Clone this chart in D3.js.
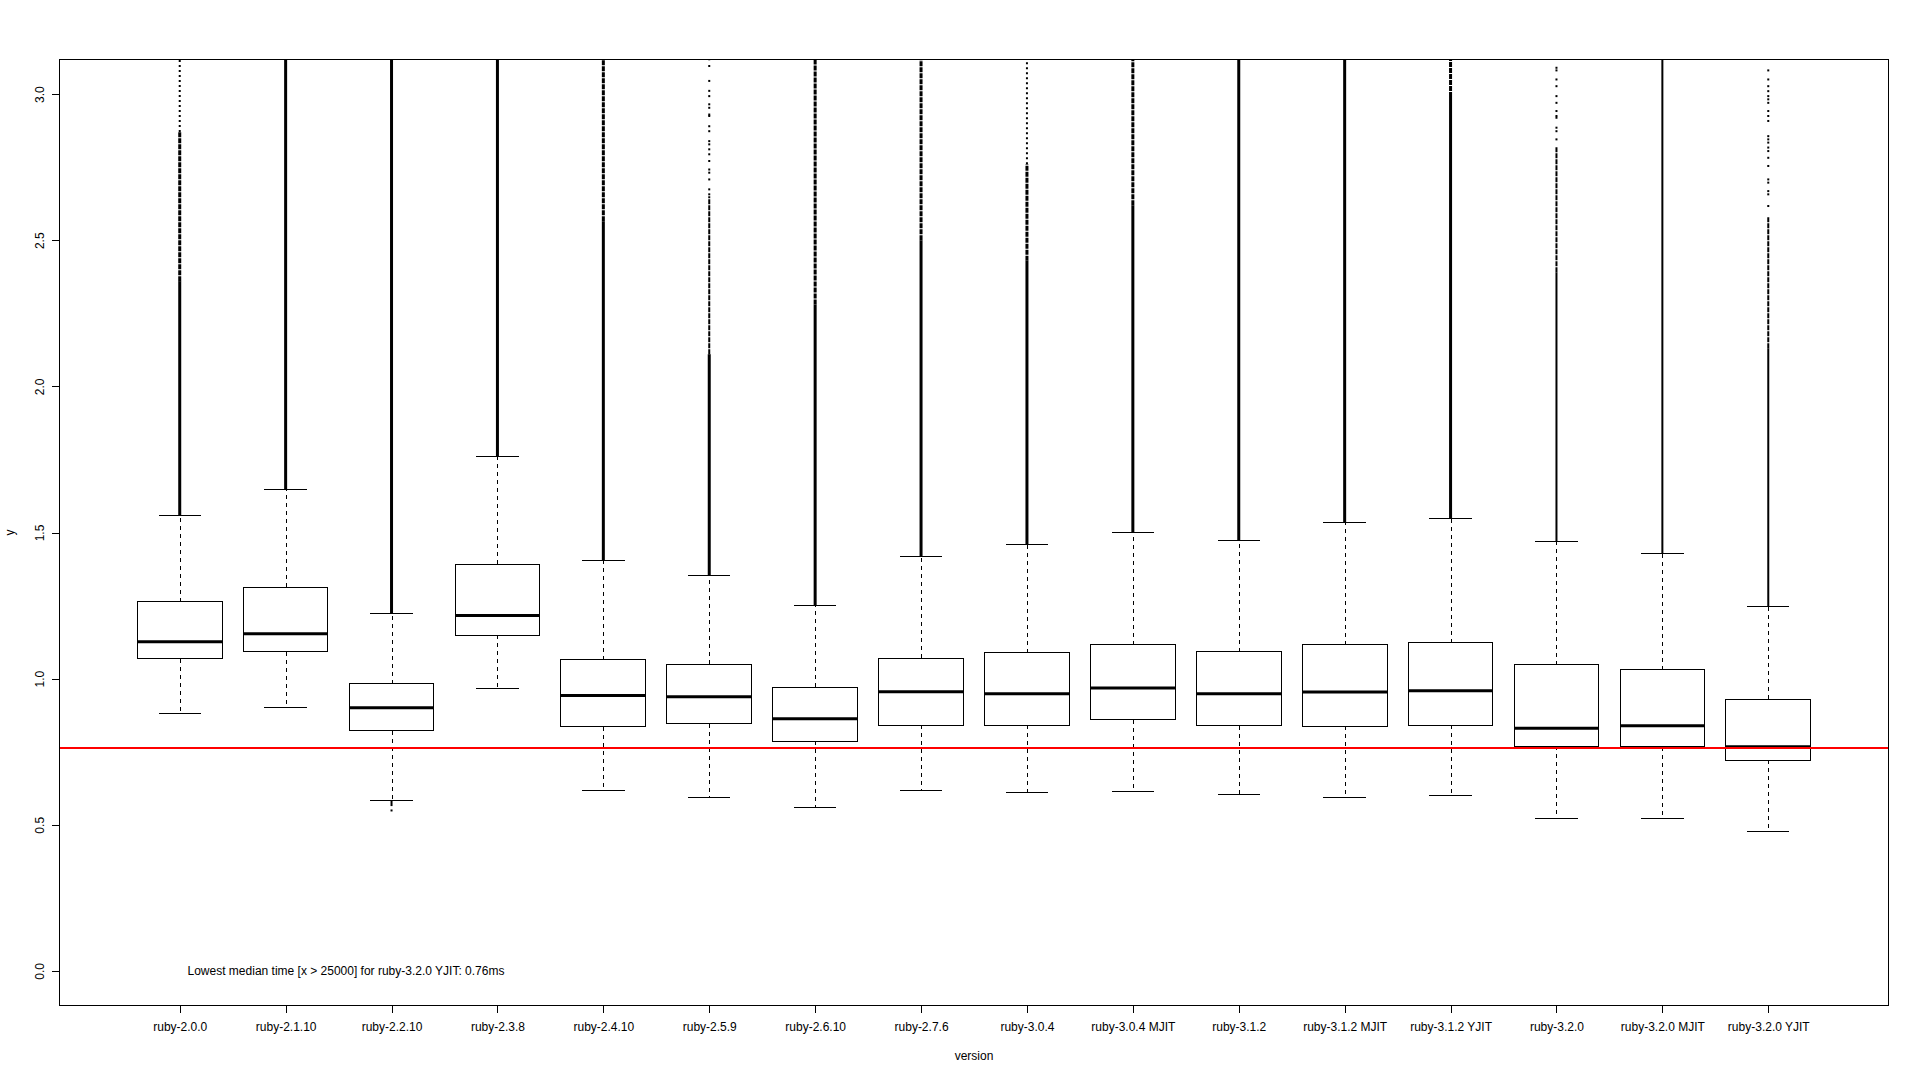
<!DOCTYPE html>
<html><head><meta charset="utf-8">
<script src="https://cdn.jsdelivr.net/npm/d3@7"></script>
<style>
body{margin:0;background:#fff}
svg{display:block;background:#fff}
text{font-family:"Liberation Sans",Arial,Helvetica,sans-serif;font-size:12px;fill:#000}
</style>
</head><body>
<svg id="chart" width="1920" height="1080"></svg>
<script>
// ---- data ----
const categories = ["ruby-2.0.0","ruby-2.1.10","ruby-2.2.10","ruby-2.3.8","ruby-2.4.10","ruby-2.5.9","ruby-2.6.10","ruby-2.7.6","ruby-3.0.4","ruby-3.0.4 MJIT","ruby-3.1.2","ruby-3.1.2 MJIT","ruby-3.1.2 YJIT","ruby-3.2.0","ruby-3.2.0 MJIT","ruby-3.2.0 YJIT"];
const lowerWhisker = [0.880,0.901,0.582,0.965,0.616,0.595,0.559,0.618,0.609,0.615,0.602,0.595,0.599,0.520,0.521,0.478];
const q1           = [1.068,1.092,0.821,1.148,0.835,0.845,0.785,0.841,0.841,0.859,0.838,0.837,0.841,0.768,0.767,0.720];
const medians      = [1.126,1.154,0.900,1.216,0.942,0.938,0.863,0.955,0.948,0.968,0.948,0.954,0.959,0.830,0.839,0.767];
const q3           = [1.263,1.313,0.982,1.392,1.064,1.049,0.971,1.070,1.088,1.116,1.092,1.116,1.123,1.047,1.030,0.930];
const upperWhisker = [1.557,1.646,1.222,1.761,1.405,1.353,1.249,1.417,1.458,1.501,1.472,1.533,1.547,1.468,1.427,1.247];
// outliers above the upper whisker: a continuous run, a dense grainy run, a loose run, then single points
const outlierSolidTop = [2.36,3.12,3.12,3.12,2.565,2.11,2.28,2.50,2.43,2.62,3.12,3.12,2.99,2.39,3.12,2.13];
const outlierDenseTop = [2.87,null,null,null,3.12,2.65,3.12,3.12,2.76,3.12,null,null,3.12,2.82,null,2.58];
const outlierLooseTop = [3.12,null,null,null,null,null,null,null,3.12,null,null,null,null,null,null,null];
const outlierDots = [
  [],[],[],[],[],
  [3.119,3.096,3.045,3.011,2.993,2.965,2.953,2.930,2.925,2.890,2.873,2.839,2.828,2.811,2.794,2.771,2.742,2.731,2.708,2.674,2.657],
  [],[],[],[],[],[],[],
  [3.090,3.081,3.050,3.027,2.993,2.970,2.942,2.925,2.919,2.885,2.873,2.845],
  [],
  [3.081,3.050,3.027,3.010,2.993,2.982,2.970,2.942,2.925,2.908,2.856,2.845,2.834,2.817,2.805,2.782,2.754,2.708,2.697,2.668,2.657,2.617]
];
// outliers below the lower whisker
const lowOutlierSolidBottom = [null,null,0.564,null,null,null,null,null,null,null,null,null,null,null,null,null];
const lowOutlierDots = [[],[],[0.549],[],[],[],[],[],[],[],[],[],[],[],[],[]];
const yTicks = [0,0.5,1.0,1.5,2.0,2.5,3.0];
const bestMedian = 0.763;
const annotation = "Lowest median time [x > 25000] for ruby-3.2.0 YJIT: 0.76ms";
const xTitle = "version", yTitle = "y";

// ---- layout ----
const L = 59, R = 1889, T = 59, B = 1006;
const n = categories.length;
const pad = 0.04 * n;
const x = d3.scaleLinear().domain([0.5 - pad, n + 0.5 + pad]).range([L, R]);
const y = d3.scaleLinear().domain([0 - 0.04*3, 3 + 0.04*3]).range([B, T]);
const svg = d3.select("#chart");

svg.append("defs").append("clipPath").attr("id","plotclip")
  .append("rect").attr("x",L).attr("y",T).attr("width",R-L).attr("height",B-T);

const rows = categories.map((c,i)=>({c,i,pos:i+1,lw:lowerWhisker[i],q1:q1[i],med:medians[i],q3:q3[i],uw:upperWhisker[i],
  sTop:outlierSolidTop[i],dTop:outlierDenseTop[i],lTop:outlierLooseTop[i],dots:outlierDots[i],
  lowS:lowOutlierSolidBottom[i],lowDots:lowOutlierDots[i]}));

const gOut = svg.append("g").attr("clip-path","url(#plotclip)");
const thick = i => (i >= 13 ? 2 : 3);
rows.forEach(d=>{
  const cx = x(d.pos);
  gOut.append("line").attr("x1",cx).attr("x2",cx).attr("y1",y(d.uw)).attr("y2",y(d.sTop))
    .attr("stroke","#000").attr("stroke-width",thick(d.i));
  if (d.dTop != null) {
    gOut.append("line").attr("x1",cx).attr("x2",cx).attr("y1",y(d.sTop)).attr("y2",y(d.dTop))
      .attr("stroke","#000").attr("stroke-width",d.dots.length ? 2 : thick(d.i)).attr("stroke-dasharray","5,1");
  }
  if (d.lTop != null) {
    gOut.append("line").attr("x1",cx).attr("x2",cx).attr("y1",y(d.dTop)).attr("y2",y(d.lTop))
      .attr("stroke","#000").attr("stroke-width",2).attr("stroke-dasharray","2,3");
  }
  d.dots.forEach(v=>{
    gOut.append("rect").attr("x",cx-1).attr("y",y(v)-1).attr("width",2).attr("height",2).attr("fill","#000");
  });
  if (d.lowS != null) {
    gOut.append("line").attr("x1",cx).attr("x2",cx).attr("y1",y(d.lw)).attr("y2",y(d.lowS))
      .attr("stroke","#000").attr("stroke-width",2);
  }
  d.lowDots.forEach(v=>{
    gOut.append("rect").attr("x",cx-1).attr("y",y(v)-1).attr("width",2).attr("height",2).attr("fill","#000");
  });
});

// whiskers, caps, boxes, medians
const gBox = svg.append("g");
rows.forEach(d=>{
  const cx = Math.round(x(d.pos)) + 0.5;
  const g = gBox.append("g");
  g.append("line").attr("x1",cx).attr("x2",cx).attr("y1",y(d.q3)).attr("y2",y(d.uw))
    .attr("stroke","#000").attr("stroke-width",1).attr("stroke-dasharray","4,4").attr("shape-rendering","crispEdges");
  g.append("line").attr("x1",cx).attr("x2",cx).attr("y1",y(d.q1)).attr("y2",y(d.lw))
    .attr("stroke","#000").attr("stroke-width",1).attr("stroke-dasharray","4,4").attr("shape-rendering","crispEdges");
  [d.uw, d.lw].forEach(v=>{
    g.append("line").attr("x1",x(d.pos-0.2)).attr("x2",x(d.pos+0.2)).attr("y1",y(v)).attr("y2",y(v))
      .attr("stroke","#000").attr("stroke-width",1).attr("shape-rendering","crispEdges");
  });
  g.append("rect").attr("x",x(d.pos-0.4)).attr("y",y(d.q3))
    .attr("width",x(d.pos+0.4)-x(d.pos-0.4)).attr("height",y(d.q1)-y(d.q3))
    .attr("fill","#fff").attr("stroke","#000").attr("stroke-width",1).attr("shape-rendering","crispEdges");
  g.append("line").attr("x1",x(d.pos-0.4)).attr("x2",x(d.pos+0.4)).attr("y1",y(d.med)).attr("y2",y(d.med))
    .attr("stroke","#000").attr("stroke-width",3);
});

// red reference line
svg.append("line").attr("x1",L).attr("x2",R).attr("y1",y(bestMedian)).attr("y2",y(bestMedian))
  .attr("stroke","#ff0000").attr("stroke-width",2);

// frame
svg.append("rect").attr("x",L+0.5).attr("y",T+0.5).attr("width",R-L-1).attr("height",B-T-1)
  .attr("fill","none").attr("stroke","#000").attr("stroke-width",1);

// y axis
const yAxis = svg.append("g").attr("transform",`translate(${L},0)`)
  .call(d3.axisLeft(y).tickValues(yTicks).tickSize(7).tickFormat(d3.format(".1f")));
yAxis.select(".domain").remove();
yAxis.selectAll("line").attr("stroke","#000").attr("shape-rendering","crispEdges");
yAxis.selectAll("text").attr("transform","rotate(-90)").attr("x",0).attr("y",-15).attr("dy",0)
  .attr("text-anchor","middle").style("font-size","12px").style("font-family",'"Liberation Sans",Arial,sans-serif');

// x axis
const xAxis = svg.append("g").attr("transform",`translate(0,${B})`)
  .call(d3.axisBottom(x).tickValues(d3.range(1,n+1)).tickSize(7).tickFormat(i=>categories[i-1]));
xAxis.select(".domain").remove();
xAxis.selectAll("line").attr("stroke","#000").attr("shape-rendering","crispEdges");
xAxis.selectAll("text").attr("y",25).attr("dy",0)
  .style("font-size","12px").style("font-family",'"Liberation Sans",Arial,sans-serif');

// titles
svg.append("text").attr("x",(L+R)/2).attr("y",1060).attr("text-anchor","middle").text(xTitle);
svg.append("text").attr("transform",`translate(14,${(T+B)/2}) rotate(-90)`).attr("text-anchor","middle").text(yTitle);

// annotation
svg.append("text").attr("x",x(2.57)).attr("y",y(0)).attr("dy","0.35em").attr("text-anchor","middle").text(annotation);
</script>
</body></html>
